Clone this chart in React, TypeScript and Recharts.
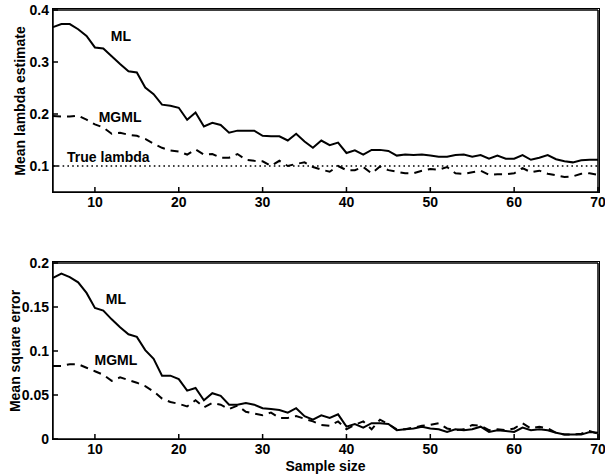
import React from 'react';
import { LineChart, Line, XAxis, YAxis, ReferenceLine, ReferenceDot } from 'recharts';

const sampleSize = [
	5, 6, 7, 8, 9, 10, 11, 12, 13, 14, 15, 16, 17, 18, 19, 20, 21, 22, 23, 24, 25, 26,
	27, 28, 29, 30, 31, 32, 33, 34, 35, 36, 37, 38, 39, 40, 41, 42, 43, 44, 45, 46, 47,
	48, 49, 50, 51, 52, 53, 54, 55, 56, 57, 58, 59, 60, 61, 62, 63, 64, 65, 66, 67, 68,
	69, 70,
];

// mean lambda estimate
const mlMean = [
	0.367, 0.373, 0.373, 0.363, 0.35, 0.328, 0.326, 0.311, 0.296, 0.282, 0.28, 0.251,
	0.238, 0.218, 0.216, 0.212, 0.189, 0.203, 0.176, 0.183, 0.179, 0.164, 0.168, 0.168,
	0.168, 0.158, 0.157, 0.157, 0.149, 0.162, 0.147, 0.135, 0.149, 0.14, 0.145, 0.125,
	0.13, 0.122, 0.131, 0.131, 0.129, 0.12, 0.122, 0.121, 0.122, 0.12, 0.118, 0.118,
	0.121, 0.122, 0.118, 0.121, 0.114, 0.12, 0.114, 0.114, 0.121, 0.112, 0.116, 0.121,
	0.113, 0.109, 0.107, 0.111, 0.112, 0.112,
];
const mgmlMean = [
	0.196, 0.195, 0.195, 0.197, 0.189, 0.18, 0.174, 0.162, 0.164, 0.16, 0.158, 0.152,
	0.143, 0.135, 0.13, 0.128, 0.122, 0.132, 0.122, 0.123, 0.116, 0.116, 0.123, 0.112,
	0.11, 0.109, 0.1, 0.11, 0.1, 0.104, 0.107, 0.098, 0.093, 0.089, 0.1, 0.092, 0.092,
	0.098, 0.086, 0.099, 0.092, 0.089, 0.086, 0.086, 0.091, 0.094, 0.093, 0.098, 0.086,
	0.085, 0.088, 0.091, 0.083, 0.084, 0.084, 0.086, 0.096, 0.088, 0.091, 0.085, 0.082,
	0.079, 0.08, 0.085, 0.086, 0.083,
];

// mean square error
const mlMse = [
	0.183, 0.188, 0.184, 0.178, 0.166, 0.149, 0.146, 0.136, 0.127, 0.119, 0.116, 0.101,
	0.091, 0.072, 0.072, 0.068, 0.055, 0.058, 0.044, 0.052, 0.049, 0.039, 0.039, 0.041,
	0.039, 0.035, 0.034, 0.033, 0.03, 0.035, 0.026, 0.022, 0.027, 0.024, 0.028, 0.014,
	0.017, 0.013, 0.018, 0.018, 0.017, 0.01, 0.011, 0.012, 0.014, 0.012, 0.011, 0.008,
	0.011, 0.01, 0.011, 0.014, 0.008, 0.01, 0.009, 0.008, 0.013, 0.01, 0.011, 0.01,
	0.007, 0.005, 0.005, 0.005, 0.008, 0.007,
];
const mgmlMse = [
	0.083, 0.083, 0.085, 0.085, 0.081, 0.077, 0.073, 0.066, 0.07, 0.067, 0.064, 0.06,
	0.054, 0.046, 0.042, 0.04, 0.037, 0.044, 0.036, 0.041, 0.039, 0.034, 0.038, 0.031,
	0.029, 0.027, 0.03, 0.024, 0.024, 0.026, 0.023, 0.02, 0.016, 0.015, 0.02, 0.011,
	0.016, 0.02, 0.011, 0.022, 0.017, 0.011, 0.011, 0.013, 0.015, 0.016, 0.018, 0.012,
	0.01, 0.011, 0.016, 0.015, 0.01, 0.011, 0.01, 0.012, 0.018, 0.012, 0.014, 0.012,
	0.007, 0.005, 0.005, 0.006, 0.009, 0.006,
];

const TRUE_LAMBDA = 0.1;

const xDomain: [number, number] = [5, 70];
const lambdaDomain: [number, number] = [0.05, 0.4];
const mseDomain: [number, number] = [0, 0.2];
const xTicks = [10, 20, 30, 40, 50, 60, 70];
const topTicks = [10, 20, 30, 40, 50, 60];
const lambdaTicks = [0.1, 0.2, 0.3, 0.4];
const lambdaRightTicks = [0.1, 0.2, 0.3];
const mseTicks = [0, 0.05, 0.1, 0.15, 0.2];
const mseRightTicks = [0.05, 0.1, 0.15];

const W = 605;
const YAXIS_W = 53;
const RIGHT = 6;
const top = { y: 0, h: 215, mt: 9, xh: 23 };
const bottom = { y: 240, h: 234, mt: 22, xh: 35 };

const font = 'Liberation Sans, Arial, Helvetica, sans-serif';
const tickStyle = { fill: '#000', fontSize: 14, fontWeight: 'bold', fontFamily: font };
const stroke = { stroke: '#000', strokeWidth: 1.5 };

const textLabel = (value: string) => ({
	value,
	position: 'center' as const,
	fill: '#000',
	fontSize: 14,
	fontWeight: 'bold',
	fontFamily: font,
});

const yTitle = (value: string, dx: number) => (props: any) => {
	const vb = props.viewBox;
	const cx = vb.x + dx;
	const cy = vb.y + vb.height / 2;
	return (
		<text
			x={cx}
			y={cy}
			transform={`rotate(-90, ${cx}, ${cy})`}
			textAnchor='middle'
			dominantBaseline='central'
			style={tickStyle}
		>
			{value}
		</text>
	);
};

const xTitle = (props: any) => {
	const vb = props.viewBox;
	return (
		<text x={vb.x + vb.width / 2} y={vb.y + 32} textAnchor='middle' style={tickStyle}>
			Sample size
		</text>
	);
};

const lambdaData = sampleSize.map((n, i) => ({ n, ml: mlMean[i], mgml: mgmlMean[i] }));
const mseData = sampleSize.map((n, i) => ({ n, ml: mlMse[i], mgml: mgmlMse[i] }));

// box around the plot area, from the same margins the chart uses
const Frame = ({ p }: { p: typeof top }) => (
	<div
		style={{
			position: 'absolute',
			left: YAXIS_W - 0.75,
			top: p.y + p.mt - 0.75,
			width: W - RIGHT - YAXIS_W + 1.5,
			height: p.h - p.mt - p.xh + 1.5,
			border: '1.5px solid #000',
			boxSizing: 'border-box',
			pointerEvents: 'none',
		}}
	/>
);

export default function App() {
	return (
		<div style={{ position: 'absolute', left: 0, top: 0, width: W, height: 474, background: '#fff' }}>
			<div style={{ position: 'absolute', left: 0, top: top.y }}>
				<LineChart width={W} height={top.h} data={lambdaData} margin={{ top: top.mt, right: RIGHT, left: 0, bottom: 0 }}>
					<XAxis
						dataKey='n'
						type='number'
						domain={xDomain}
						ticks={xTicks}
						height={top.xh}
						tickSize={-5}
						tickMargin={10}
						tick={tickStyle}
						axisLine={stroke}
						tickLine={stroke}
					/>
					<YAxis
						type='number'
						domain={lambdaDomain}
						ticks={lambdaTicks}
						width={YAXIS_W}
						tickSize={-5}
						tickMargin={9}
						tick={tickStyle}
						axisLine={stroke}
						tickLine={stroke}
						label={{ content: yTitle('Mean lambda estimate', 20) }}
					/>
					<XAxis
						xAxisId='top'
						orientation='top'
						type='number'
						domain={xDomain}
						ticks={topTicks}
						height={1}
						tick={false}
						tickSize={-5}
						axisLine={stroke}
						tickLine={stroke}
					/>
					<YAxis
						yAxisId='right'
						orientation='right'
						type='number'
						domain={lambdaDomain}
						ticks={lambdaRightTicks}
						width={1}
						tick={false}
						tickSize={-5}
						axisLine={stroke}
						tickLine={stroke}
					/>
					<ReferenceLine y={TRUE_LAMBDA} stroke='#000' strokeWidth={1.6} strokeDasharray='1.6 3.2' />
					<Line type='linear' dataKey='ml' stroke='#000' strokeWidth={2} dot={false} isAnimationActive={false} />
					<Line
						type='linear'
						dataKey='mgml'
						stroke='#000'
						strokeWidth={2}
						strokeDasharray='8 6'
						dot={false}
						isAnimationActive={false}
					/>
					<ReferenceDot x={13.1} y={0.35} r={0} fill='none' stroke='none' label={textLabel('ML')} />
					<ReferenceDot x={13} y={0.195} r={0} fill='none' stroke='none' label={textLabel('MGML')} />
					<ReferenceDot x={11.6} y={0.1175} r={0} fill='none' stroke='none' label={textLabel('True lambda')} />
				</LineChart>
			</div>
			<div style={{ position: 'absolute', left: 0, top: bottom.y }}>
				<LineChart width={W} height={bottom.h} data={mseData} margin={{ top: bottom.mt, right: RIGHT, left: 0, bottom: 0 }}>
					<XAxis
						dataKey='n'
						type='number'
						domain={xDomain}
						ticks={xTicks}
						height={bottom.xh}
						tickSize={-5}
						tickMargin={10}
						tick={tickStyle}
						axisLine={stroke}
						tickLine={stroke}
						label={{ content: xTitle }}
					/>
					<YAxis
						type='number'
						domain={mseDomain}
						ticks={mseTicks}
						width={YAXIS_W}
						tickSize={-5}
						tickMargin={9}
						tick={tickStyle}
						axisLine={stroke}
						tickLine={stroke}
						label={{ content: yTitle('Mean square error', 15) }}
					/>
					<XAxis
						xAxisId='top'
						orientation='top'
						type='number'
						domain={xDomain}
						ticks={topTicks}
						height={1}
						tick={false}
						tickSize={-5}
						axisLine={stroke}
						tickLine={stroke}
					/>
					<YAxis
						yAxisId='right'
						orientation='right'
						type='number'
						domain={mseDomain}
						ticks={mseRightTicks}
						width={1}
						tick={false}
						tickSize={-5}
						axisLine={stroke}
						tickLine={stroke}
					/>
					<Line type='linear' dataKey='ml' stroke='#000' strokeWidth={2} dot={false} isAnimationActive={false} />
					<Line
						type='linear'
						dataKey='mgml'
						stroke='#000'
						strokeWidth={2}
						strokeDasharray='8 6'
						dot={false}
						isAnimationActive={false}
					/>
					<ReferenceDot x={12.5} y={0.159} r={0} fill='none' stroke='none' label={textLabel('ML')} />
					<ReferenceDot x={12.5} y={0.09} r={0} fill='none' stroke='none' label={textLabel('MGML')} />
				</LineChart>
			</div>
			<Frame p={top} />
			<Frame p={bottom} />
		</div>
	);
}
